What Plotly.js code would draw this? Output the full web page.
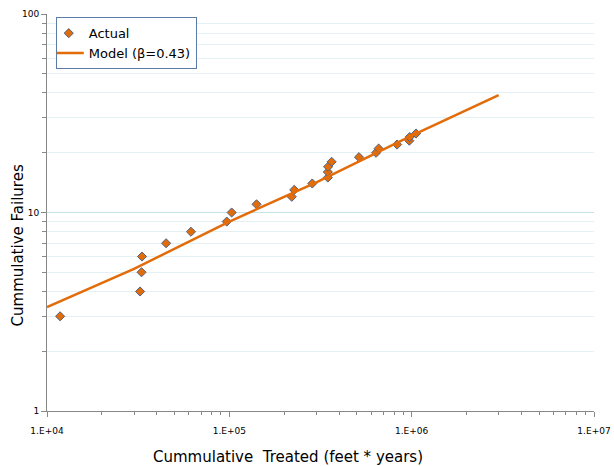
<!DOCTYPE html>
<html><head><meta charset="utf-8">
<script src="https://cdn.plot.ly/plotly-3.0.1.min.js"></script>
<style>body{margin:0;padding:0;background:#fff}#chart{width:614px;height:466px}</style>
</head><body><div id="chart"></div>
<script>
const actualX = [11800, 32400, 33000, 33200, 45000, 61600, 96800, 103000, 141000, 220000, 227000, 285000, 347000, 347000, 348000, 364000, 514000, 638000, 659000, 832000, 971000, 975000, 1057000];
const actualY = [3, 4, 5, 6, 7, 8, 9, 10, 11, 12, 13, 14, 15, 16, 17, 18, 19, 20, 21, 22, 23, 24, 25];
const modelX = [10000, 30000, 100000, 300000, 1000000, 2000000, 3000000];
const modelY = [3.34, 5.2, 9.0, 14.2, 24.4, 32.8, 39.0];
const xTickVals = [1e4, 1e5, 1e6, 1e7];
const xTickText = ['1.E+04', '1.E+05', '1.E+06', '1.E+07'];
const yTickVals = [1, 10, 100];
const yTickText = ['1', '10', '100'];

const font = 'DejaVu Sans, Verdana, sans-serif';
const traces = [
  {x: actualX, y: actualY, type: 'scatter', mode: 'markers', name: 'Actual',
   marker: {symbol: 'diamond', size: 7, color: '#E36C0A', line: {color: '#4F6282', width: 1}}},
  {x: modelX, y: modelY, type: 'scatter', mode: 'lines', name: 'Model (β=0.43)',
   line: {color: '#E36C0A', width: 2.5}}
];
const layout = {
  width: 614, height: 466,
  margin: {l: 47, r: 20, t: 14, b: 55},
  paper_bgcolor: '#fff', plot_bgcolor: '#fff',
  font: {family: font, color: '#000'},
  showlegend: true,
  legend: {x: 0.016, y: 0.992, xanchor: 'left', yanchor: 'top', bgcolor: '#fff',
    bordercolor: '#5B7BA8', borderwidth: 1, font: {size: 13, family: font},
    tracegroupgap: 0, itemwidth: 30, indentation: -8},
  xaxis: {type: 'log', range: [4, 7], tickvals: xTickVals, ticktext: xTickText,
    showgrid: false, zeroline: false, showline: true, linecolor: '#888', linewidth: 1,
    ticks: 'outside', ticklen: 5, tickcolor: '#888', tickfont: {size: 9, family: font},
    ticklabelstandoff: 6,
    minor: {dtick: 'D1', ticks: 'outside', ticklen: 3, tickcolor: '#888', showgrid: false}},
  yaxis: {type: 'log', range: [0, 2], tickvals: yTickVals, ticktext: yTickText,
    showgrid: true, gridcolor: '#C8E2EA', gridwidth: 1, zeroline: false,
    showline: true, linecolor: '#888', linewidth: 1,
    ticks: 'outside', ticklen: 5, tickcolor: '#888', tickfont: {size: 9, family: font},
    minor: {dtick: 'D1', ticks: 'outside', ticklen: 4, tickcolor: '#888', showgrid: true, gridcolor: '#E3F0F4', gridwidth: 1}},
  annotations: [
    {text: 'Cummulative  Treated (feet * years)', xref: 'paper', yref: 'paper', x: 0.44, y: 0, yshift: -46,
     xanchor: 'center', yanchor: 'middle', showarrow: false, font: {size: 15, family: font}},
    {text: 'Cummulative Failures', xref: 'paper', yref: 'paper', x: 0, xshift: -29, y: 0.417,
     xanchor: 'center', yanchor: 'middle', textangle: -90, showarrow: false, font: {size: 15, family: font}}
  ]
};
Plotly.newPlot('chart', traces, layout, {displayModeBar: false, staticPlot: true});
</script></body></html>
